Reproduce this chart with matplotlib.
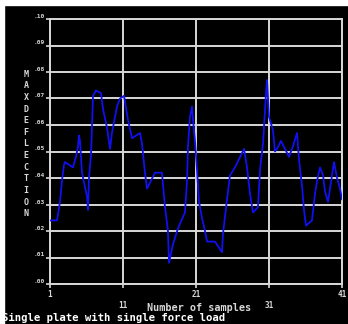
import matplotlib
matplotlib.use("Agg")
import matplotlib.pyplot as plt
from matplotlib.patches import Rectangle

# sample index and max deflection
samples = [1.0, 1.96, 2.37, 2.64, 2.92, 3.05, 4.15, 4.56, 4.84, 4.97,
           5.11, 5.38, 6.07, 6.21, 6.34, 6.62, 6.75, 6.89, 7.30, 7.99,
           8.26, 8.81, 9.22, 9.49, 10.18, 10.59, 11.14, 11.68, 12.23, 13.33,
           13.60, 14.01, 14.29, 15.38, 16.34, 16.75, 17.16, 17.30, 17.85, 18.53,
           19.49, 19.77, 19.90, 20.18, 20.45, 20.59, 20.86, 21.14, 21.41, 21.82,
           22.23, 22.51, 22.92, 23.60, 24.56, 24.70, 25.25, 25.66, 26.34, 27.58,
           27.99, 28.40, 28.81, 29.49, 29.77, 30.18, 30.59, 30.73, 31.00, 31.55,
           31.82, 32.10, 32.64, 33.19, 33.74, 34.29, 34.84, 35.11, 35.52, 35.79,
           36.07, 36.89, 37.30, 37.58, 37.99, 38.40, 38.67, 39.08, 39.36, 39.90,
           40.32, 40.73, 41.0]
deflection = [0.024, 0.024, 0.031, 0.039, 0.045, 0.046, 0.044, 0.048, 0.052, 0.056,
              0.054, 0.042, 0.033, 0.028, 0.040, 0.049, 0.059, 0.071, 0.073, 0.072,
              0.066, 0.059, 0.051, 0.057, 0.067, 0.070, 0.071, 0.062, 0.055, 0.057,
              0.053, 0.042, 0.036, 0.042, 0.042, 0.029, 0.020, 0.008, 0.015, 0.021,
              0.027, 0.039, 0.052, 0.063, 0.067, 0.062, 0.054, 0.043, 0.031, 0.025,
              0.020, 0.016, 0.016, 0.016, 0.012, 0.019, 0.032, 0.041, 0.044, 0.051,
              0.044, 0.034, 0.027, 0.029, 0.043, 0.053, 0.072, 0.077, 0.063, 0.058,
              0.050, 0.051, 0.054, 0.051, 0.048, 0.052, 0.057, 0.047, 0.037, 0.028,
              0.022, 0.024, 0.034, 0.039, 0.044, 0.041, 0.035, 0.031, 0.036, 0.046,
              0.040, 0.036, 0.032]

xticks = [1, 11, 21, 31, 41]
xtick_labels = ["1", "11", "21", "31", "41"]
yticks = [0.00, 0.01, 0.02, 0.03, 0.04, 0.05, 0.06, 0.07, 0.08, 0.09, 0.10]
ytick_labels = [".00", ".01", ".02", ".03", ".04", ".05", ".06", ".07", ".08", ".09", ".10"]

fg = "#d8d8d8"
mono = "DejaVu Sans Mono"

fig = plt.figure(figsize=(3.48, 3.24), dpi=100, facecolor="black")
# thin white strips on the top and left edge of the screenshot
fig.patches.append(Rectangle((0, 0), 4 / 348, 1, transform=fig.transFigure, color="white", zorder=0))
fig.patches.append(Rectangle((0, 1 - 5 / 324), 1, 5 / 324, transform=fig.transFigure, color="white", zorder=0))

ax = fig.add_axes([50 / 348, 1 - 284 / 324, 292 / 348, 265 / 324])
ax.set_facecolor("black")
ax.plot(samples, deflection, color="#1010f0", lw=1.3, zorder=3)

ax.set_xlim(1, 41)
ax.set_ylim(0, 0.10)
ax.set_xticks(xticks)
ax.set_xticklabels(xtick_labels, family=mono, fontsize=5.5, fontweight="bold", color=fg)
ax.set_yticks(yticks)
ax.set_yticklabels(ytick_labels, family=mono, fontsize=4.5, fontweight="bold", color=fg)
for t in ax.get_yticklabels():
    t.set_va("bottom")
for i, tk in enumerate(ax.xaxis.get_major_ticks()):
    tk.set_pad(1 if i % 2 == 0 else 9)
ax.tick_params(axis="y", pad=1)

ax.tick_params(colors=fg, length=3, width=1.2, direction="out")
ax.grid(True, color=fg, lw=1.4)
for s in ax.spines.values():
    s.set_color(fg)
    s.set_linewidth(1.4)

# vertical stacked axis title
fig.text(26 / 348, 1 - 144 / 324, "\n".join("MAXDEFLECTION"), ha="center", va="center",
         family=mono, fontsize=6, fontweight="bold", color=fg, linespacing=1.38)

fig.text(199 / 348, 1 - 308 / 324, "Number of samples", ha="center", va="center",
         family=mono, fontsize=7.3, fontweight="bold", color=fg)
fig.text(2 / 348, 1 - 318 / 324, "Single plate with single force load", ha="left", va="center",
         family=mono, fontsize=7.7, fontweight="bold", color="white")

fig.savefig("out.png", dpi=100, facecolor=fig.get_facecolor())
